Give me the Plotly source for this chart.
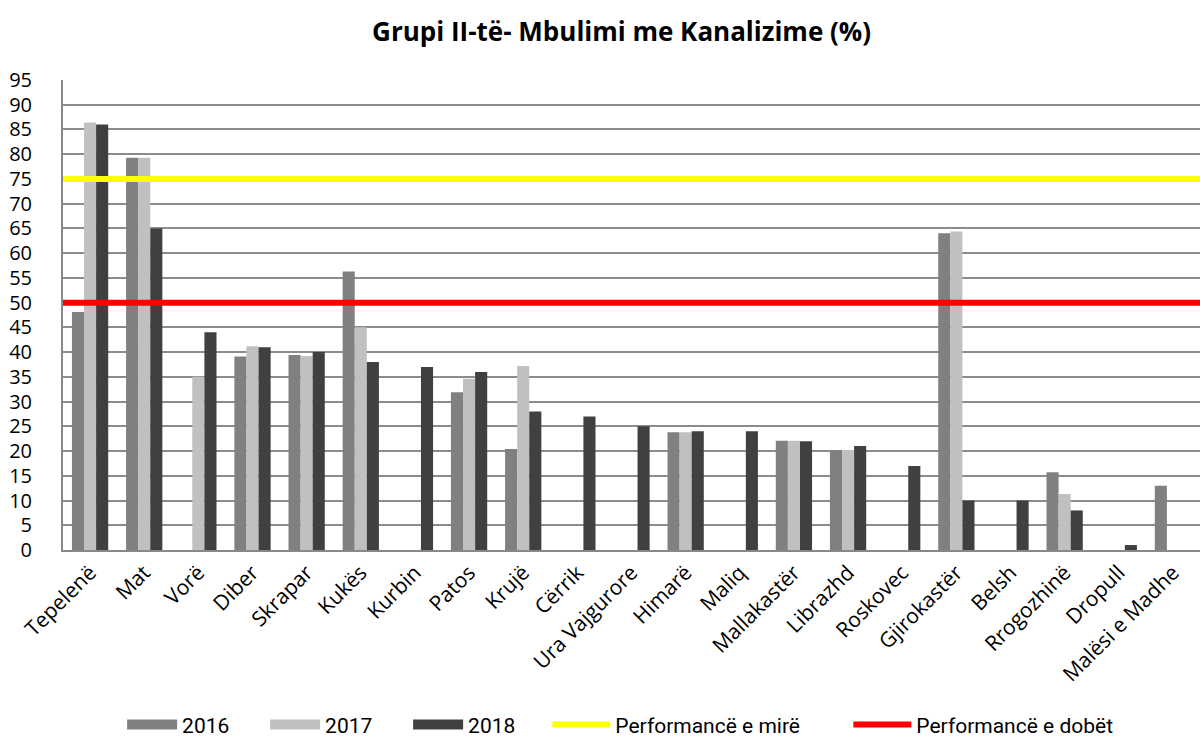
import plotly.graph_objects as go

title = "Grupi II-të- Mbulimi me Kanalizime (%)"
categories = ["Tepelenë", "Mat", "Vorë", "Diber", "Skrapar", "Kukës", "Kurbin", "Patos",
              "Krujë", "Cërrik", "Ura Vajgurore", "Himarë", "Maliq", "Mallakastër",
              "Librazhd", "Roskovec", "Gjirokastër", "Belsh", "Rrogozhinë", "Dropull",
              "Malësi e Madhe"]
v2016 = [48.1, 79.3, None, 39.1, 39.4, 56.3, None, 31.9, 20.4, None, None, 23.8, None,
         22.1, 20.1, None, 64.0, None, 15.7, None, 13.0]
v2017 = [86.4, 79.3, 35.0, 41.2, 39.2, 45.0, None, 34.6, 37.2, None, None, 23.8, None,
         22.1, 20.2, None, 64.4, None, 11.3, None, None]
v2018 = [86.0, 65.0, 44.0, 41.0, 40.0, 38.0, 37.0, 36.0, 28.0, 27.0, 25.0, 24.0, 24.0,
         22.0, 21.0, 17.0, 10.0, 10.0, 8.0, 1.0, None]
series_names = ["2016", "2017", "2018"]
series_colors = ["#808080", "#C0C0C0", "#404040"]
good_level = 75
poor_level = 50
good_name = "Performancë e mirë"
poor_name = "Performancë e dobët"
y_ticks = list(range(0, 100, 5))

fig = go.Figure()
for name, vals, col in zip(series_names, [v2016, v2017, v2018], series_colors):
    fig.add_trace(go.Bar(x=categories, y=vals, name=name, marker_color=col,
                         marker_line_width=0, showlegend=False, legendgroup=name))
# wide rectangular legend keys for the bar series
for name, col in zip(series_names, series_colors):
    fig.add_trace(go.Scatter(x=[None], y=[None], mode="lines", name=name,
                             line=dict(color=col, width=14), legendgroup=name,
                             legend="legend"))

fig.add_hline(y=good_level, line=dict(color="#FFFF00", width=6), showlegend=True,
              name=good_name, layer="above", legend="legend2")
fig.add_hline(y=poor_level, line=dict(color="#FF0000", width=6), showlegend=True,
              name=poor_name, layer="above", legend="legend2")

legend_font = dict(family="Roboto, sans-serif", size=21, color="black")
fig.update_layout(
    width=1200, height=740,
    paper_bgcolor="white", plot_bgcolor="white",
    margin=dict(l=63, r=0, t=80, b=190, autoexpand=False),
    barmode="group", bargap=0.33, bargroupgap=0,
    title=dict(text="<b>" + title + "</b>", x=0.518, xanchor="center", y=0.957,
               yanchor="middle", font=dict(family="Open Sans", size=26, color="black")),
    font=dict(family="Open Sans", color="black"),
    legend=dict(orientation="h", x=0.052, xanchor="left", y=-0.372, yanchor="middle",
                font=legend_font, itemwidth=50, entrywidth=78, traceorder="normal"),
    legend2=dict(orientation="h", x=0.426, xanchor="left", y=-0.372, yanchor="middle",
                 font=legend_font, itemwidth=58, entrywidth=228, traceorder="normal"),
    xaxis=dict(type="category", tickangle=-45, tickfont=dict(size=21),
               showline=True, linecolor="#888888", linewidth=2, showgrid=False,
               ticks=""),
    yaxis=dict(range=[0, 95], tickvals=y_ticks, tickfont=dict(size=20),
               showgrid=True, gridcolor="#8c8c8c", gridwidth=2,
               showline=True, linecolor="#888888", linewidth=2,
               ticks="", ticklabelstandoff=25, zeroline=False),
)

fig.write_html("out.html", config={"displayModeBar": False},
               post_script="document.body.style.margin='0';document.body.style.overflow='hidden';")
